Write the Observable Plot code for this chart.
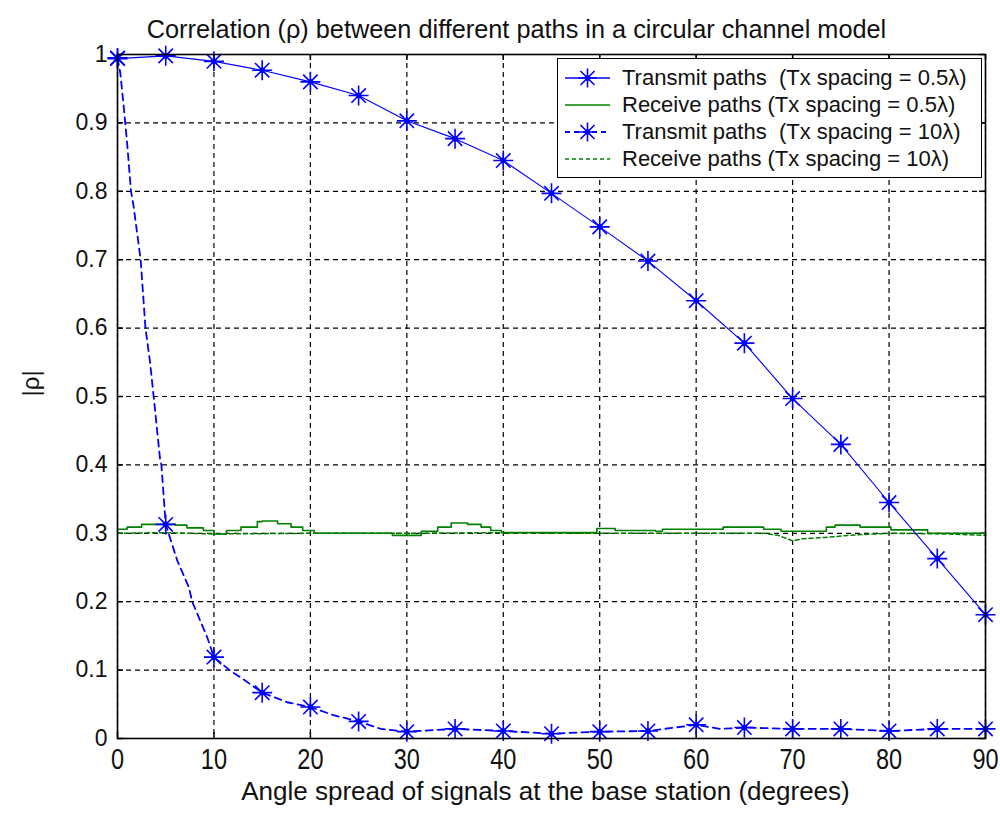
<!DOCTYPE html>
<html>
<head>
<meta charset="utf-8">
<script src="https://cdn.jsdelivr.net/npm/d3@7"></script>
<script src="https://cdn.jsdelivr.net/npm/@observablehq/plot@0.6"></script>
<style>
  html, body { margin: 0; padding: 0; background: #fff; }
  #wrap { position: relative; width: 1000px; height: 816px; }
  #legend {
    position: absolute; left: 557px; top: 58px; width: 425px; height: 120px;
    background: #fff; border: 1.5px solid #000; box-sizing: border-box;
    font-family: "Liberation Sans", Arial, sans-serif; font-size: 22px; color: #111;
    padding-top: 5px;
  }
  #legend .row { display: flex; align-items: center; height: 27px; }
  #legend span { white-space: pre; }
  #legend svg { margin-left: 7px; margin-right: 12px; flex: none; }
</style>
</head>
<body>
<div id="wrap"></div>
<script>
// Angle spread (degrees) at which the markers are computed
const angles = [0, 5, 10, 15, 20, 25, 30, 35, 40, 45, 50, 55, 60, 65, 70, 75, 80, 85, 90];

// |rho| for transmit paths, Tx spacing = 0.5 lambda
const txNarrow = [0.994, 0.998, 0.990, 0.977, 0.960, 0.940, 0.903, 0.877, 0.845, 0.797, 0.748,
                  0.698, 0.640, 0.578, 0.497, 0.430, 0.345, 0.263, 0.181];

// |rho| for transmit paths, Tx spacing = 10 lambda (marker points)
const txWide = [0.995, 0.313, 0.119, 0.067, 0.046, 0.025, 0.010, 0.014, 0.011, 0.007, 0.010,
                0.011, 0.020, 0.016, 0.014, 0.014, 0.011, 0.014, 0.014];

// finer curve for the 10 lambda transmit line
const txWideLineX = [0, 0.3, 0.65, 1.0, 1.4, 1.65, 2.4, 2.7, 2.9, 3.35, 3.75, 4.4, 4.55, 5,
                     6.2, 7.4, 7.75, 9.3, 10, 11.7, 13, 15, 17.6, 20, 22.4, 25, 27.3, 30,
                     35, 40, 45, 50, 55, 60, 62.5, 65, 70, 75, 80, 85, 90];
const txWideLineY = [0.995, 0.972, 0.923, 0.870, 0.800, 0.780, 0.700, 0.640, 0.600, 0.553, 0.500, 0.410, 0.400, 0.313,
                     0.260, 0.221, 0.200, 0.148, 0.119, 0.099, 0.087, 0.067, 0.053, 0.046, 0.034, 0.025, 0.014, 0.010,
                     0.014, 0.011, 0.007, 0.010, 0.011, 0.020, 0.014, 0.016, 0.014, 0.014, 0.011, 0.014, 0.014];

// receive paths, Tx spacing = 0.5 lambda
const rxNarrowX = [0, 1, 2.5, 5, 6, 7.2, 8.9, 10, 11.3, 12.8, 14.5, 15, 16.6, 18, 19.2, 20.4, 27.7, 28.5, 30.4,
                   31.5, 33.2, 34.6, 36.3, 37.7, 38.7, 39.8, 48.8, 49.7, 50.9, 51.6, 55.8, 56.5, 62.3, 62.8,
                   66.4, 67, 68.8, 72.6, 73.5, 74.4, 76.4, 77, 79.9, 80.2, 83.7, 84, 88.8, 90];
const rxNarrowY = [0.306, 0.309, 0.313, 0.313, 0.312, 0.308, 0.304, 0.299, 0.304, 0.309, 0.317, 0.318, 0.314, 0.309, 0.304, 0.300, 0.300, 0.297, 0.297,
                   0.303, 0.309, 0.315, 0.313, 0.309, 0.304, 0.301, 0.301, 0.307, 0.307, 0.304, 0.303, 0.306, 0.306, 0.309,
                   0.309, 0.306, 0.303, 0.303, 0.309, 0.312, 0.312, 0.309, 0.309, 0.305, 0.305, 0.300, 0.300, 0.302];

// receive paths, Tx spacing = 10 lambda
const rxWideX = [0, 5, 10, 20, 30, 40, 50, 60, 67, 68.5, 70, 71, 73.4, 76.8, 80.2, 86, 90];
const rxWideY = [0.300, 0.301, 0.299, 0.300, 0.300, 0.301, 0.300, 0.300, 0.300, 0.297, 0.289, 0.292, 0.294, 0.298, 0.300, 0.299, 0.297];

const xTicks = [0, 10, 20, 30, 40, 50, 60, 70, 80, 90];
const yTicks = [0, 0.1, 0.2, 0.3, 0.4, 0.5, 0.6, 0.7, 0.8, 0.9, 1];
const yTickLabels = ["0", "0.1", "0.2", "0.3", "0.4", "0.5", "0.6", "0.7", "0.8", "0.9", "1"];

const seriesNames = [
  "Transmit paths  (Tx spacing = 0.5λ)",
  "Receive paths (Tx spacing = 0.5λ)",
  "Transmit paths  (Tx spacing = 10λ)",
  "Receive paths (Tx spacing = 10λ)"
];

const titleText = "Correlation (ρ) between different paths in a circular channel model";
const xLabel = "Angle spread of signals at the base station (degrees)";
const yLabel = "|ρ|";

const BLUE = "#0000ff";
const GREEN = "#008000";

// eight-armed star marker (plus + cross)
const starSymbol = {
  draw(ctx, size) {
    const r = Math.sqrt(size / Math.PI);
    const d = r * 0.72;
    ctx.moveTo(-r, 0); ctx.lineTo(r, 0);
    ctx.moveTo(0, -r); ctx.lineTo(0, r);
    ctx.moveTo(-d, -d); ctx.lineTo(d, d);
    ctx.moveTo(-d, d); ctx.lineTo(d, -d);
  }
};

const pts = (xs, ys) => xs.map((x, i) => ({x, y: ys[i]}));
const txNarrowPts = pts(angles, txNarrow);
const txWidePts = pts(angles, txWide);
const txWideLine = pts(txWideLineX, txWideLineY);
const rxNarrowPts = pts(rxNarrowX, rxNarrowY);
const rxWidePts = pts(rxWideX, rxWideY);

const W = 1000, H = 816;
const mL = 117, mR = 15, mT = 54, mB = 78;
const frameW = W - mL - mR, frameH = H - mT - mB;
const tickLen = 6;
const xTickPad = 10;

const plot = Plot.plot({
  width: W, height: H,
  marginLeft: mL, marginRight: mR, marginTop: mT, marginBottom: mB,
  style: {fontFamily: "'Liberation Sans', Arial, sans-serif", color: "#111", background: "#fff"},
  x: {domain: [0, 90]},
  y: {domain: [0, 1]},
  marks: [
    // dashed grid
    Plot.ruleX(xTicks, {stroke: "#000", strokeWidth: 1.2, strokeDasharray: "5,4"}),
    Plot.ruleY(yTicks, {stroke: "#000", strokeWidth: 1.2, strokeDasharray: "5,4"}),
    // inward ticks on all four sides
    Plot.tickX(xTicks, {stroke: "#000", strokeWidth: 1.5, insetTop: frameH - tickLen}),
    Plot.tickX(xTicks, {stroke: "#000", strokeWidth: 1.5, insetBottom: frameH - tickLen}),
    Plot.tickY(yTicks, {stroke: "#000", strokeWidth: 1.5, insetRight: frameW - tickLen}),
    Plot.tickY(yTicks, {stroke: "#000", strokeWidth: 1.5, insetLeft: frameW - tickLen}),
    // receive paths
    Plot.line(rxWidePts, {x: "x", y: "y", stroke: GREEN, strokeWidth: 1.5, strokeDasharray: "4,3"}),
    Plot.line(rxNarrowPts, {x: "x", y: "y", stroke: GREEN, strokeWidth: 1.6, curve: "step-after"}),
    // transmit paths
    Plot.line(txWideLine, {x: "x", y: "y", stroke: BLUE, strokeWidth: 1.8, strokeDasharray: "7,5"}),
    Plot.line(txNarrowPts, {x: "x", y: "y", stroke: BLUE, strokeWidth: 1.1}),
    Plot.dot(txWidePts, {x: "x", y: "y", symbol: starSymbol, r: 10, stroke: BLUE, strokeWidth: 1.6, fill: "none"}),
    Plot.dot(txWidePts, {x: "x", y: "y", r: 2.8, fill: BLUE}),
    Plot.dot(txNarrowPts, {x: "x", y: "y", symbol: starSymbol, r: 10, stroke: BLUE, strokeWidth: 1.6, fill: "none"}),
    Plot.dot(txNarrowPts, {x: "x", y: "y", r: 2.8, fill: BLUE}),
    // box
    Plot.frame({stroke: "#000", strokeWidth: 1.6}),
    // axes
    Plot.axisX({ticks: xTicks, tickSize: 0, tickPadding: xTickPad, fontSize: 23.5, label: null, fill: "#111"}),
    Plot.axisY({ticks: yTicks, tickFormat: (d, i) => yTickLabels[i], tickSize: 0, tickPadding: 10,
                fontSize: 23, label: null, fill: "#111"}),
    // title and axis labels
    Plot.text([titleText], {frameAnchor: "top", dx: -35, dy: -34, fontSize: 25.3, fill: "#111"}),
    Plot.text([xLabel], {frameAnchor: "bottom", dx: -6, dy: 61, fontSize: 26, fill: "#111"}),
    Plot.text([yLabel], {frameAnchor: "left", dx: -86, rotate: -90, fontSize: 24, fill: "#111"})
  ]
});

// x tick labels are drawn taller than they are wide: stretch the row vertically
// about its top edge
const xLabelGroup = plot.querySelector('g[aria-label^="x-axis tick label"]');
if (xLabelGroup) {
  const y0 = mT + frameH + xTickPad;
  const tr = xLabelGroup.getAttribute("transform") || "";
  xLabelGroup.setAttribute("transform", `translate(0,${y0}) scale(1,1.25) translate(0,${-y0}) ${tr}`);
}

const wrap = document.getElementById("wrap");
wrap.appendChild(plot);

// legend box inside the axes
const legend = document.createElement("div");
legend.id = "legend";
const swatch = (stroke, dash, star, width) => {
  let s = `<svg width="45" height="20" viewBox="0 0 45 20">` +
          `<line x1="0" y1="10" x2="45" y2="10" stroke="${stroke}" stroke-width="${width}"${dash ? ` stroke-dasharray="${dash}"` : ""}/>`;
  if (star) {
    s += `<path d="M13,10H32M22.5,0.5V19.5M15.5,3L29.5,17M15.5,17L29.5,3" stroke="${stroke}" stroke-width="1.6" fill="none"/>` +
         `<circle cx="22.5" cy="10" r="2.8" fill="${stroke}"/>`;
  }
  return s + `</svg>`;
};
const swatches = [
  swatch(BLUE, null, true, 1.3),
  swatch(GREEN, null, false, 1.6),
  swatch(BLUE, "5,4", true, 1.8),
  swatch(GREEN, "4,3", false, 1.5)
];
legend.innerHTML = seriesNames.map((n, i) => `<div class="row">${swatches[i]}<span>${n}</span></div>`).join("");
wrap.appendChild(legend);
</script>
</body>
</html>
